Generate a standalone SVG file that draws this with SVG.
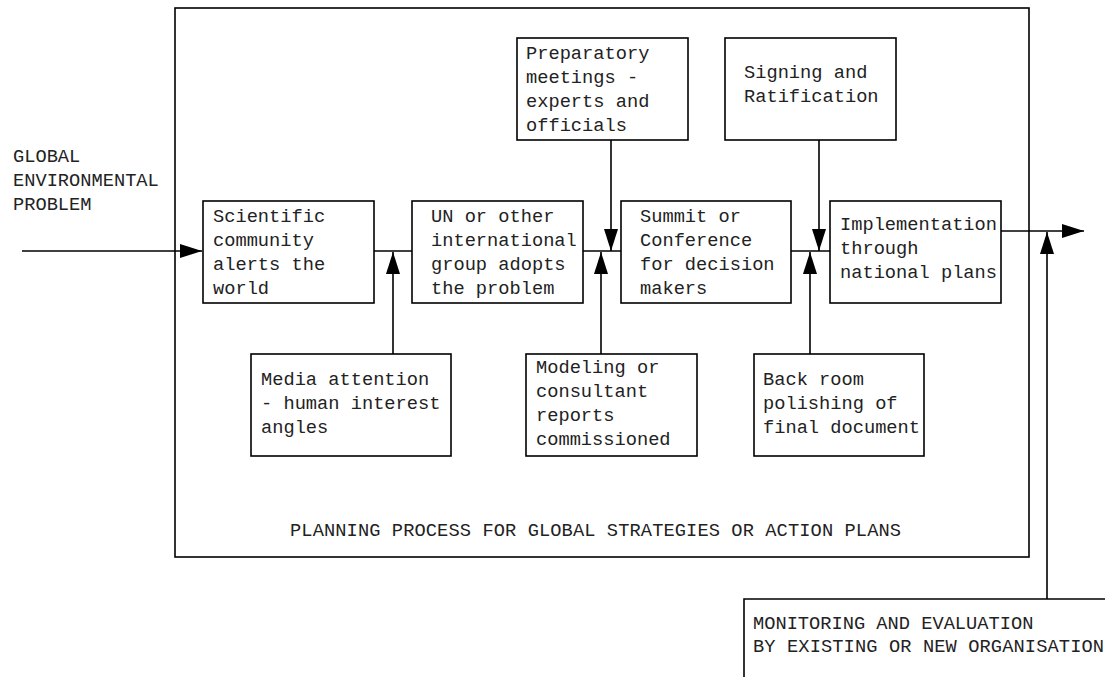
<svg xmlns="http://www.w3.org/2000/svg" width="1105" height="677" viewBox="0 0 1105 677">
<style>
.b{fill:#fff;stroke:#000;stroke-width:1.6}
.t{font-family:"Liberation Mono","DejaVu Sans Mono",monospace;font-size:18.7px;fill:#222}
.c{stroke:#000;stroke-width:1.6;fill:none}
</style>
<defs>
<marker id="ah" markerUnits="userSpaceOnUse" markerWidth="22" markerHeight="14" refX="22" refY="7" orient="auto" viewBox="0 0 22 14">
<path d="M0,0 L22,7 L0,14 z" fill="#000"/>
</marker>
</defs>
<rect x="0" y="0" width="1105" height="677" fill="#fff"/>
<g id="frame">
<rect x="175" y="8" width="854" height="549" class="b" fill="none"/>
<text class="t" x="290" y="536" textLength="611" lengthAdjust="spacing">PLANNING PROCESS FOR GLOBAL STRATEGIES OR ACTION PLANS</text>
</g>
<g id="input-label">
<text class="t" x="13" y="162">GLOBAL</text>
<text class="t" x="13" y="186">ENVIRONMENTAL</text>
<text class="t" x="13" y="210">PROBLEM</text>
</g>
<g id="connectors">
<line class="c" x1="22" y1="251" x2="202" y2="251" marker-end="url(#ah)"/>
<line class="c" x1="374" y1="251" x2="412" y2="251"/>
<line class="c" x1="583" y1="251" x2="621" y2="251"/>
<line class="c" x1="791" y1="251" x2="830" y2="251"/>
<line class="c" x1="1000" y1="231" x2="1084" y2="231" marker-end="url(#ah)"/>
<line class="c" x1="611" y1="140" x2="611" y2="251" marker-end="url(#ah)"/>
<line class="c" x1="819" y1="140" x2="819" y2="251" marker-end="url(#ah)"/>
<line class="c" x1="393" y1="354" x2="393" y2="252" marker-end="url(#ah)"/>
<line class="c" x1="601" y1="354" x2="601" y2="252" marker-end="url(#ah)"/>
<line class="c" x1="810" y1="354" x2="810" y2="252" marker-end="url(#ah)"/>
<line class="c" x1="1047" y1="599" x2="1047" y2="232" marker-end="url(#ah)"/>
</g>
<g id="scientific">
<rect class="b" x="203" y="201" width="171" height="102"/>
<text class="t" x="213" y="222">Scientific</text>
<text class="t" x="213" y="246">community</text>
<text class="t" x="213" y="270">alerts the</text>
<text class="t" x="213" y="294">world</text>
</g>
<g id="un">
<rect class="b" x="412" y="201" width="171" height="102"/>
<text class="t" x="431" y="222">UN or other</text>
<text class="t" x="431" y="246">international</text>
<text class="t" x="431" y="270">group adopts</text>
<text class="t" x="431" y="294">the problem</text>
</g>
<g id="summit">
<rect class="b" x="621" y="201" width="170" height="102"/>
<text class="t" x="640" y="222">Summit or</text>
<text class="t" x="640" y="246">Conference</text>
<text class="t" x="640" y="270">for decision</text>
<text class="t" x="640" y="294">makers</text>
</g>
<g id="implementation">
<rect class="b" x="830" y="201" width="171" height="102"/>
<text class="t" x="840" y="230">Implementation</text>
<text class="t" x="840" y="254">through</text>
<text class="t" x="840" y="278">national plans</text>
</g>
<g id="preparatory">
<rect class="b" x="517" y="38" width="171" height="102"/>
<text class="t" x="526" y="59">Preparatory</text>
<text class="t" x="526" y="83">meetings -</text>
<text class="t" x="526" y="107">experts and</text>
<text class="t" x="526" y="131">officials</text>
</g>
<g id="signing">
<rect class="b" x="725" y="38" width="171" height="102"/>
<text class="t" x="744" y="78">Signing and</text>
<text class="t" x="744" y="102">Ratification</text>
</g>
<g id="media">
<rect class="b" x="251" y="354" width="200" height="102"/>
<text class="t" x="261" y="385">Media attention</text>
<text class="t" x="261" y="409">- human interest</text>
<text class="t" x="261" y="433">angles</text>
</g>
<g id="modeling">
<rect class="b" x="526" y="354" width="171" height="102"/>
<text class="t" x="536" y="373">Modeling or</text>
<text class="t" x="536" y="397">consultant</text>
<text class="t" x="536" y="421">reports</text>
<text class="t" x="536" y="445">commissioned</text>
</g>
<g id="backroom">
<rect class="b" x="754" y="354" width="170" height="102"/>
<text class="t" x="763" y="385">Back room</text>
<text class="t" x="763" y="409">polishing of</text>
<text class="t" x="763" y="433">final document</text>
</g>
<g id="monitoring">
<path class="c" d="M744,680 L744,599 L1108,599"/>
<text class="t" x="753" y="629">MONITORING AND EVALUATION</text>
<text class="t" x="753" y="652" textLength="351" lengthAdjust="spacing">BY EXISTING OR NEW ORGANISATION</text>
</g>
</svg>
